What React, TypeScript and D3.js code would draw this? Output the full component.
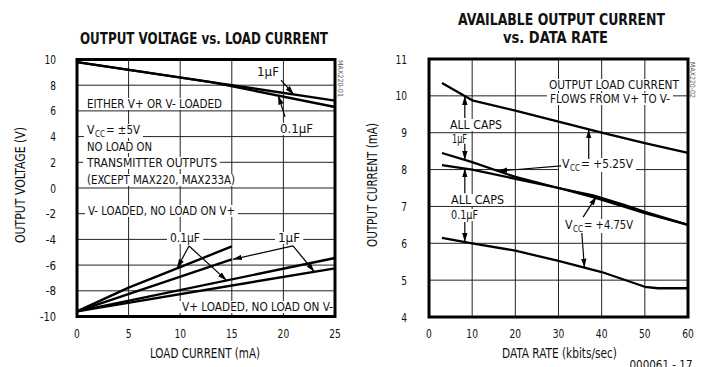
import { useEffect, useRef } from 'react'
import * as d3 from 'd3'

type Pt = [number, number]

// left panel: output voltage vs load current
const loadTicks = [0, 5, 10, 15, 20, 25]
const voltTicks = [10, 8, 6, 4, 2, 0, -2, -4, -6, -8, -10]
const eitherLoaded1uF: Pt[] = [[0, 9.8], [13, 8.24], [25, 6.8]]
const eitherLoaded01uF: Pt[] = [[0, 9.8], [13, 8.24], [25, 6.3]]
const vMinusLoaded01uF: Pt[] = [[0, -9.6], [5, -7.75], [10, -6.15], [15, -4.55]]
const vMinusLoaded1uF: Pt[] = [[0, -9.6], [15, -5.55]]
const vPlusLoaded01uF: Pt[] = [[0, -9.6], [25, -5.45]]
const vPlusLoaded1uF: Pt[] = [[0, -9.6], [25, -6.25]]

// right panel: available output current vs data rate
const rateTicks = [0, 10, 20, 30, 40, 50, 60]
const currentTicks = [11, 10, 9, 8, 7, 6, 5, 4]
const caps1uF525: Pt[] = [[3, 10.35], [10, 9.88], [20, 9.6], [30, 9.3], [40, 9.0], [50, 8.72], [60, 8.45]]
const caps1uF475: Pt[] = [[3, 8.45], [10, 8.2], [20, 7.8], [30, 7.5], [38, 7.3], [45, 7.05], [50, 6.85], [60, 6.5]]
const caps01uF525: Pt[] = [[3, 8.12], [10, 8.0], [20, 7.75], [30, 7.5], [38, 7.25], [45, 7.0], [50, 6.82], [60, 6.5]]
const caps01uF475: Pt[] = [[3, 6.15], [10, 6.0], [20, 5.8], [30, 5.52], [40, 5.22], [50, 4.82], [53, 4.78], [60, 4.78]]

const NARROW = "'Liberation Sans Narrow', 'Arial Narrow', 'DejaVu Sans Condensed', 'Liberation Sans', sans-serif"
const HEAVY = "'DejaVu Sans Condensed', 'DejaVu Sans', sans-serif"

// value of a series at x (for pointing arrows at the curves)
const at = (s: Pt[], x: number) => {
  for (let i = 1; i < s.length; i++) {
    if (x <= s[i][0]) {
      const [x0, y0] = s[i - 1]
      const [x1, y1] = s[i]
      return y0 + (y1 - y0) * (x - x0) / (x1 - x0)
    }
  }
  return s[s.length - 1][1]
}

// narrow digits: about 5.8px per digit, 4.5 for the minus sign
const tickWidth = (d: number) => String(d).split('').reduce((w, c) => w + (c === '-' ? 4.5 : 5.8), 0)

const App = () => {
  const svgRef = useRef<SVGSVGElement>(null)

  useEffect(() => {
    const svg = d3.select(svgRef.current!)
    svg.selectAll('*').remove()

    svg.append('defs').append('marker')
      .attr('id', 'head')
      .attr('viewBox', '0 0 10 6')
      .attr('markerWidth', 9).attr('markerHeight', 6)
      .attr('refX', 10).attr('refY', 3)
      .attr('orient', 'auto')
      .attr('markerUnits', 'userSpaceOnUse')
      .append('path').attr('d', 'M0,0L10,3L0,6Z').attr('fill', '#000')

    const whiteOut = (g: any, nodes: SVGTextElement[]) => {
      const boxes = nodes.map(n => n.getBBox())
      const x0 = d3.min(boxes, b => b.x)!, x1 = d3.max(boxes, b => b.x + b.width)!
      const y0 = d3.min(boxes, b => b.y)!, y1 = d3.max(boxes, b => b.y + b.height)!
      g.insert('rect', () => nodes[0])
        .attr('x', x0 - 3).attr('y', y0 + 2)
        .attr('width', x1 - x0 + 6).attr('height', y1 - y0 - 3)
        .attr('fill', '#fff')
    }

    const put = (g: any, str: string, x: number, y: number, o: any = {}) => {
      const t = g.append('text')
        .attr('x', x).attr('y', y)
        .attr('font-family', o.family ?? NARROW)
        .attr('font-size', o.size ?? 13)
        .attr('fill', o.fill ?? '#111')
        .attr('text-anchor', o.anchor ?? 'start')
        .text(str)
      if (o.weight) t.attr('font-weight', o.weight)
      if (o.width) t.attr('textLength', o.width).attr('lengthAdjust', 'spacingAndGlyphs')
      if (o.rotate) t.attr('transform', `rotate(${o.rotate},${x},${y})`)
      if (o.bg) whiteOut(g, [t.node()])
      return t
    }

    // "VCC = ..." with a subscript, as three pieces of text
    const vcc = (g: any, rest: string, x: number, y: number, width: number) => {
      const v = put(g, 'V', x, y, { width: 7.5 })
      const cc = put(g, 'CC', x + 8, y + 3, { size: 9, width: 10 })
      const r = put(g, rest, x + 19, y, { width: width - 19 })
      whiteOut(g, [v.node(), cc.node(), r.node()])
    }

    const frame = (x: any, y: any, xTicks: number[], yTicks: number[], labelX: number) => {
      const g = svg.append('g')
      const [left, right] = x.range()
      const [bottom, top] = y.range()
      g.selectAll('line.v').data(xTicks.slice(1, -1)).join('line').attr('class', 'v')
        .attr('x1', (d: number) => x(d)).attr('x2', (d: number) => x(d))
        .attr('y1', top).attr('y2', bottom)
        .attr('stroke', '#222').attr('stroke-width', 1)
      g.selectAll('line.h').data(yTicks.slice(1, -1)).join('line').attr('class', 'h')
        .attr('y1', (d: number) => y(d)).attr('y2', (d: number) => y(d))
        .attr('x1', left).attr('x2', right)
        .attr('stroke', '#222').attr('stroke-width', 1)
      g.selectAll('text.xt').data(xTicks).join('text').attr('class', 'xt')
        .attr('x', (d: number) => x(d)).attr('y', 338)
        .attr('text-anchor', 'middle').attr('font-family', NARROW).attr('font-size', 12.5).attr('fill', '#111')
        .attr('textLength', tickWidth).attr('lengthAdjust', 'spacingAndGlyphs')
        .text((d: number) => d)
      g.selectAll('text.yt').data(yTicks).join('text').attr('class', 'yt')
        .attr('x', labelX).attr('y', (d: number) => y(d)).attr('dy', '0.36em')
        .attr('text-anchor', 'end').attr('font-family', NARROW).attr('font-size', 12.5).attr('fill', '#111')
        .attr('textLength', tickWidth).attr('lengthAdjust', 'spacingAndGlyphs')
        .text((d: number) => d)
      return g
    }

    const curves = (g: any, x: any, y: any, list: Pt[][], w: number) => {
      const line = d3.line<Pt>().x(d => x(d[0])).y(d => y(d[1]))
      g.selectAll('path.c').data(list).join('path').attr('class', 'c')
        .attr('d', (d: Pt[]) => line(d))
        .attr('fill', 'none').attr('stroke', '#000').attr('stroke-width', w)
        .attr('stroke-linejoin', 'round')
    }

    const arrow = (g: any, x: any, y: any, tail: Pt, tip: Pt) => {
      g.append('line')
        .attr('x1', x(tail[0])).attr('y1', y(tail[1]))
        .attr('x2', x(tip[0])).attr('y2', y(tip[1]))
        .attr('stroke', '#000').attr('stroke-width', 1.2)
        .attr('marker-end', 'url(#head)')
    }

    const border = (g: any, x: any, y: any) => {
      const [left, right] = x.range()
      const [bottom, top] = y.range()
      g.append('rect').attr('x', left).attr('y', top)
        .attr('width', right - left).attr('height', bottom - top)
        .attr('fill', 'none').attr('stroke', '#000').attr('stroke-width', 3)
    }

    // ---------- left panel ----------
    const xL = d3.scaleLinear().domain([0, 25]).range([77, 335])
    const yL = d3.scaleLinear().domain([-10, 10]).range([316.5, 59.5])
    const gL = frame(xL, yL, loadTicks, voltTicks, 56)

    put(gL, 'OUTPUT VOLTAGE vs. LOAD CURRENT', 204, 44, { family: HEAVY, weight: 'bold', size: 16.5, anchor: 'middle', width: 248 })
    put(gL, 'LOAD CURRENT (mA)', 205, 358, { anchor: 'middle', width: 110, size: 13.5 })
    put(gL, 'OUTPUT VOLTAGE (V)', 25, 185, { anchor: 'middle', width: 116, rotate: -90, size: 13.5 })
    put(gL, 'MAX220-01', 338, 60, { size: 7, width: 37, rotate: 90, fill: '#555' })

    put(gL, '1µF', 257, 76, { width: 22, bg: true })
    put(gL, '0.1µF', 280, 133, { width: 33, bg: true })
    put(gL, 'EITHER V+ OR V- LOADED', 87, 108, { width: 135, bg: true })
    vcc(gL, '= ±5V', 87, 134, 53)
    put(gL, 'NO LOAD ON', 87, 151, { width: 65, bg: true })
    put(gL, 'TRANSMITTER OUTPUTS', 87, 167, { width: 130, bg: true })
    put(gL, '(EXCEPT MAX220, MAX233A)', 87, 184, { width: 148, bg: true })
    put(gL, 'V- LOADED, NO LOAD ON V+', 88, 215, { width: 147, bg: true })
    put(gL, '0.1µF', 170, 242, { width: 30, bg: true })
    put(gL, '1µF', 278, 242, { width: 22, bg: true })
    put(gL, 'V+ LOADED, NO LOAD ON V-', 182, 311, { width: 151, bg: true })

    curves(gL, xL, yL, [eitherLoaded1uF, eitherLoaded01uF, vMinusLoaded01uF, vMinusLoaded1uF, vPlusLoaded01uF, vPlusLoaded1uF], 2.4)

    arrow(gL, xL, yL, [19.77, 8.4], [21, at(eitherLoaded1uF, 21)])
    arrow(gL, xL, yL, [20.16, 5.53], [19.5, at(eitherLoaded01uF, 19.5)])
    arrow(gL, xL, yL, [10.85, -4.51], [9.7, at(vMinusLoaded01uF, 9.7)])
    arrow(gL, xL, yL, [10.85, -4.51], [14.5, at(vPlusLoaded01uF, 14.5)])
    arrow(gL, xL, yL, [20.93, -4.51], [15.1, at(vMinusLoaded1uF, 15)])
    arrow(gL, xL, yL, [20.93, -4.51], [23, at(vPlusLoaded1uF, 23)])
    border(gL, xL, yL)

    // ---------- right panel ----------
    const xR = d3.scaleLinear().domain([0, 60]).range([429, 688])
    const yR = d3.scaleLinear().domain([4, 11]).range([317, 59])
    const gR = frame(xR, yR, rateTicks, currentTicks, 407)

    put(gR, 'AVAILABLE OUTPUT CURRENT', 561.5, 25, { family: HEAVY, weight: 'bold', size: 15, anchor: 'middle', width: 207 })
    put(gR, 'vs. DATA RATE', 555.5, 43, { family: HEAVY, weight: 'bold', size: 15, anchor: 'middle', width: 105 })
    put(gR, 'DATA RATE (kbits/sec)', 559.5, 358, { anchor: 'middle', width: 115, size: 13.5 })
    put(gR, 'OUTPUT CURRENT (mA)', 377, 185, { anchor: 'middle', width: 124, rotate: -90, size: 13.5 })
    put(gR, 'MAX220-02', 690, 62, { size: 7, width: 36, rotate: 90, fill: '#555' })
    put(gR, '000061 - 17', 661, 369, { anchor: 'middle', width: 63, size: 12 })

    put(gR, 'OUTPUT LOAD CURRENT', 549, 89, { width: 130, bg: true })
    put(gR, 'FLOWS FROM V+ TO V-', 550, 103, { width: 120, bg: true })
    put(gR, 'ALL CAPS', 450, 129, { width: 52, bg: true })
    put(gR, '1µF', 452, 143, { width: 15, size: 12, bg: true })
    vcc(gR, '= +5.25V', 562, 168, 71)
    put(gR, 'ALL CAPS', 451, 204, { width: 53, bg: true })
    put(gR, '0.1µF', 451, 219, { width: 27, bg: true })
    vcc(gR, '= +4.75V', 565, 229, 68)

    curves(gR, xR, yR, [caps1uF525, caps1uF475, caps01uF525, caps01uF475], 2.3)

    arrow(gR, xR, yR, [8.3, 9.4], [8.3, at(caps1uF525, 8.3)])
    arrow(gR, xR, yR, [8.3, 8.7], [8.3, at(caps1uF475, 8.3)])
    arrow(gR, xR, yR, [8.3, 7.36], [8.3, at(caps01uF525, 8.3)])
    arrow(gR, xR, yR, [8.3, 6.58], [8.3, at(caps01uF475, 8.3)])
    arrow(gR, xR, yR, [37, 8.29], [37, at(caps1uF525, 37)])
    arrow(gR, xR, yR, [30.6, 8.1], [16, at(caps1uF475, 16)])
    arrow(gR, xR, yR, [35.7, 6.71], [38.8, at(caps1uF475, 38.8)])
    arrow(gR, xR, yR, [35.4, 6.28], [36, at(caps01uF475, 36)])
    border(gR, xR, yR)
  }, [])

  return (
    <svg
      ref={svgRef}
      width={702}
      height={367}
      style={{ position: 'absolute', left: 0, top: 0, background: '#fff' }}
    />
  )
}

export default App
